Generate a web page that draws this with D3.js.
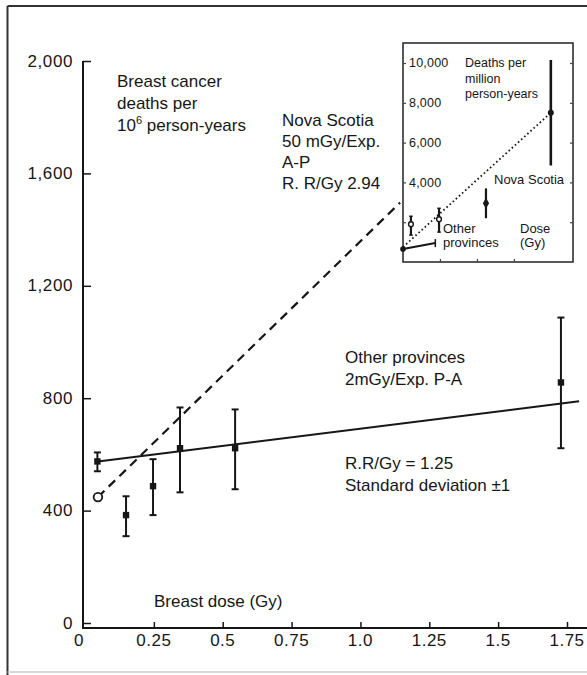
<!DOCTYPE html>
<html>
<head>
<meta charset="utf-8">
<script src="https://cdn.jsdelivr.net/npm/d3@7"></script>
<style>
  html, body { margin: 0; padding: 0; background: #fff; }
  svg { display: block; font-family: "Liberation Sans", Arial, Helvetica, sans-serif; }
</style>
</head>
<body>
<svg id="chart" width="587" height="675"></svg>
<script>
// ---------- main chart data ----------
const xTicks = [0, 0.25, 0.5, 0.75, 1.0, 1.25, 1.5, 1.75];
const xTickLabels = ["0", "0.25", "0.5", "0.75", "1.0", "1.25", "1.5", "1.75"];
const yTicks = [0, 400, 800, 1200, 1600, 2000];
const yTickLabels = ["0", "400", "800", "1,200", "1,600", "2,000"];

// Other provinces (filled squares, ±1 SD)
const opDose = [0.045, 0.149, 0.247, 0.345, 0.545, 1.728];
const opRate = [575, 384, 487, 622, 622, 856];
const opLow  = [540, 309, 384, 465, 476, 622];
const opHigh = [607, 451, 583, 767, 760, 1087];
const opFitDose = [0.047, 1.794];
const opFitRate = [575, 789];

// Nova Scotia (open circle + dashed fit)
const nsBaseDose = [0.047];
const nsBaseRate = [448];
const nsFitDose = [0.047, 1.144];
const nsFitRate = [448, 1496];

// ---------- inset data ----------
const insetXTicks = [2, 4, 6];
const insetYTicks = [2000, 4000, 6000, 8000, 10000];
const insetYLabelValues = [4000, 6000, 8000, 10000];
const insetYLabels = ["4,000", "6,000", "8,000", "10,000"];
const insNsDose = [0.43, 1.95, 4.49, 8.0];
const insNsRate = [1900, 2150, 2950, 7500];
const insNsLow  = [1350, 1500, 2200, 4850];
const insNsHigh = [2300, 2700, 3700, 10150];
const insNsMarker = ["open", "open", "diamond", "dot"];
const insNsFitDose = [0, 8];
const insNsFitRate = [750, 7500];
const insOpDose = [0, 1.75];
const insOpRate = [650, 950];

// ---------- drawing ----------
const svg = d3.select("#chart");
const ink = "#161616";

// frame
svg.append("line").attr("x1", 7.5).attr("x2", 587).attr("y1", 6).attr("y2", 6)
  .attr("stroke", "#333").attr("stroke-width", 2);
svg.append("line").attr("x1", 7.5).attr("x2", 7.5).attr("y1", 6).attr("y2", 675)
  .attr("stroke", "#333").attr("stroke-width", 2);
svg.append("line").attr("x1", 7.5).attr("x2", 587).attr("y1", 672).attr("y2", 672)
  .attr("stroke", "#ccc").attr("stroke-width", 1.5);

const x = d3.scaleLinear().domain([0, 1.75]).range([85, 567]);
const y = d3.scaleLinear().domain([0, 2000]).range([623, 61]);

// axes lines
svg.append("line").attr("x1", 83).attr("x2", 587).attr("y1", 628).attr("y2", 628)
  .attr("stroke", ink).attr("stroke-width", 2);
svg.append("line").attr("x1", 83).attr("x2", 83).attr("y1", y(2000)).attr("y2", 629)
  .attr("stroke", ink).attr("stroke-width", 2);

// x axis ticks via d3.axisTop (ticks pointing up), labels drawn below
const xAxisG = svg.append("g").attr("transform", "translate(0,628)")
  .call(d3.axisTop(x).tickValues(xTicks.slice(1)).tickSize(6).tickFormat(""));
xAxisG.select(".domain").remove();
xAxisG.selectAll(".tick line").attr("stroke", ink).attr("stroke-width", 1.5);

svg.append("g").selectAll("text").data(xTicks).join("text")
  .attr("x", (d, i) => i === 0 ? 79 : x(d))
  .attr("y", 646)
  .attr("text-anchor", "middle")
  .attr("font-size", 17).attr("letter-spacing", 0.5)
  .attr("fill", ink)
  .text((d, i) => xTickLabels[i]);

// y axis ticks (pointing right)
const yAxisG = svg.append("g").attr("transform", "translate(83,0)")
  .call(d3.axisRight(y).tickValues(yTicks).tickSize(8).tickFormat(""));
yAxisG.select(".domain").remove();
yAxisG.selectAll(".tick line").attr("stroke", ink).attr("stroke-width", 1.5);

svg.append("g").selectAll("text").data(yTicks).join("text")
  .attr("x", 73)
  .attr("y", d => y(d))
  .attr("dy", "0.33em")
  .attr("text-anchor", "end")
  .attr("font-size", 17).attr("letter-spacing", 0.6)
  .attr("fill", ink)
  .text((d, i) => yTickLabels[i]);

// Nova Scotia dashed fit
svg.append("path")
  .datum(nsFitDose.map((d, i) => [d, nsFitRate[i]]))
  .attr("d", d3.line().x(d => x(d[0])).y(d => y(d[1])))
  .attr("fill", "none").attr("stroke", ink).attr("stroke-width", 2.2)
  .attr("stroke-dasharray", "9,6");

// Other provinces solid fit
svg.append("path")
  .datum(opFitDose.map((d, i) => [d, opFitRate[i]]))
  .attr("d", d3.line().x(d => x(d[0])).y(d => y(d[1])))
  .attr("fill", "none").attr("stroke", ink).attr("stroke-width", 2);

// error bars
const eb = svg.append("g").attr("stroke", ink).attr("stroke-width", 2);
opDose.forEach((d, i) => {
  const cx = x(d);
  eb.append("line").attr("x1", cx).attr("x2", cx).attr("y1", y(opLow[i])).attr("y2", y(opHigh[i]));
  eb.append("line").attr("x1", cx - 3.5).attr("x2", cx + 3.5).attr("y1", y(opLow[i])).attr("y2", y(opLow[i]));
  eb.append("line").attr("x1", cx - 3.5).attr("x2", cx + 3.5).attr("y1", y(opHigh[i])).attr("y2", y(opHigh[i]));
});
svg.append("g").selectAll("rect").data(opDose).join("rect")
  .attr("x", d => x(d) - 3.2)
  .attr("y", (d, i) => y(opRate[i]) - 3.2)
  .attr("width", 6.4).attr("height", 6.4)
  .attr("fill", ink);

// Nova Scotia open circle
svg.append("g").selectAll("circle").data(nsBaseDose).join("circle")
  .attr("cx", d => x(d)).attr("cy", (d, i) => y(nsBaseRate[i]))
  .attr("r", 4.3).attr("fill", "#fff").attr("stroke", ink).attr("stroke-width", 1.8);

// main texts
function block(xp, y0, lh, lines, size) {
  const t = svg.append("text").attr("font-size", size).attr("fill", ink);
  lines.forEach((l, i) => {
    t.append("tspan").attr("x", xp).attr("y", y0 + i * lh).text(l);
  });
  return t;
}
block(117, 87, 22, ["Breast cancer", "deaths per"], 17);
const t10 = svg.append("text").attr("x", 117).attr("y", 131).attr("font-size", 17).attr("fill", ink);
t10.append("tspan").text("10");
t10.append("tspan").attr("font-size", 11).attr("dy", -7).text("6");
t10.append("tspan").attr("dy", 7).text(" person-years");

block(282, 126, 21, ["Nova Scotia", "50 mGy/Exp.", "A-P", "R. R/Gy 2.94"], 17);
block(345, 363, 22, ["Other provinces", "2mGy/Exp. P-A"], 17);
block(345, 469, 22, ["R.R/Gy = 1.25", "Standard deviation \u00b11"], 17);
block(154, 607, 22, ["Breast dose (Gy)"], 17);

// ---------- inset ----------
const ix = d3.scaleLinear().domain([0, 9.2]).range([403, 573]);
const iy = d3.scaleLinear().domain([0, 10000]).range([262, 63]);
const inset = svg.append("g");
inset.append("rect").attr("x", 403).attr("y", 43).attr("width", 170).attr("height", 219)
  .attr("fill", "#fff").attr("stroke", "#222").attr("stroke-width", 1.5);

const ilAxis = inset.append("g").attr("transform", "translate(403,0)")
  .call(d3.axisRight(iy).tickValues(insetYTicks).tickSize(3).tickFormat(""));
ilAxis.select(".domain").remove();
ilAxis.selectAll(".tick line").attr("stroke", "#444").attr("stroke-width", 1.2);
const irAxis = inset.append("g").attr("transform", "translate(573,0)")
  .call(d3.axisLeft(iy).tickValues(insetYTicks).tickSize(3).tickFormat(""));
irAxis.select(".domain").remove();
irAxis.selectAll(".tick line").attr("stroke", "#444").attr("stroke-width", 1.2);
const ibAxis = inset.append("g").attr("transform", "translate(0,262)")
  .call(d3.axisTop(ix).tickValues(insetXTicks).tickSize(3).tickFormat(""));
ibAxis.select(".domain").remove();
ibAxis.selectAll(".tick line").attr("stroke", "#444").attr("stroke-width", 1.2);

inset.append("g").selectAll("text").data(insetYLabelValues).join("text")
  .attr("x", 409).attr("y", d => iy(d)).attr("dy", "0.35em")
  .attr("font-size", 12.5).attr("letter-spacing", 0.2).attr("fill", ink)
  .text((d, i) => insetYLabels[i]);

// inset dotted NS fit
inset.append("path")
  .datum(insNsFitDose.map((d, i) => [d, insNsFitRate[i]]))
  .attr("d", d3.line().x(d => ix(d[0])).y(d => iy(d[1])))
  .attr("fill", "none").attr("stroke", ink).attr("stroke-width", 1.8)
  .attr("stroke-dasharray", "1.6,2.6");

// inset other provinces
inset.append("path")
  .datum(insOpDose.map((d, i) => [d, insOpRate[i]]))
  .attr("d", d3.line().x(d => ix(d[0])).y(d => iy(d[1])))
  .attr("fill", "none").attr("stroke", ink).attr("stroke-width", 2);
inset.append("circle").attr("cx", ix(insOpDose[0])).attr("cy", iy(insOpRate[0])).attr("r", 2.8).attr("fill", ink);
inset.append("line").attr("x1", ix(insOpDose[1])).attr("x2", ix(insOpDose[1]))
  .attr("y1", iy(insOpRate[1]) - 4).attr("y2", iy(insOpRate[1]) + 4)
  .attr("stroke", ink).attr("stroke-width", 1.5);

// inset NS error bars + markers
insNsDose.forEach((d, i) => {
  const cx = ix(d);
  inset.append("line").attr("x1", cx).attr("x2", cx)
    .attr("y1", iy(insNsLow[i])).attr("y2", iy(insNsHigh[i]))
    .attr("stroke", ink).attr("stroke-width", i === 3 ? 2.6 : 2.2);
  if (i < 2) {
    [insNsLow[i], insNsHigh[i]].forEach(v => {
      inset.append("line").attr("x1", cx - 1.8).attr("x2", cx + 1.8)
        .attr("y1", iy(v)).attr("y2", iy(v)).attr("stroke", ink).attr("stroke-width", 1.4);
    });
  }
  const cy = iy(insNsRate[i]);
  if (insNsMarker[i] === "open") {
    inset.append("circle").attr("cx", cx).attr("cy", cy).attr("r", 2.4)
      .attr("fill", "#fff").attr("stroke", ink).attr("stroke-width", 1.4);
  } else if (insNsMarker[i] === "diamond") {
    inset.append("path").attr("d", d3.symbol(d3.symbolDiamond, 34)())
      .attr("transform", `translate(${cx},${cy})`).attr("fill", ink);
  } else {
    inset.append("circle").attr("cx", cx).attr("cy", cy).attr("r", 3).attr("fill", ink);
  }
});

// inset texts
function iblock(xp, y0, lh, lines, size) {
  const t = inset.append("text").attr("font-size", size).attr("fill", ink);
  lines.forEach((l, i) => t.append("tspan").attr("x", xp).attr("y", y0 + i * lh).text(l));
}
iblock(465, 67, 15.5, ["Deaths per", "million", "person-years"], 12.5);
iblock(494, 184, 15, ["Nova Scotia"], 13);
iblock(443, 233, 14, ["Other", "provinces"], 13);
iblock(520, 233, 14, ["Dose", "(Gy)"], 13);
</script>
</body>
</html>
